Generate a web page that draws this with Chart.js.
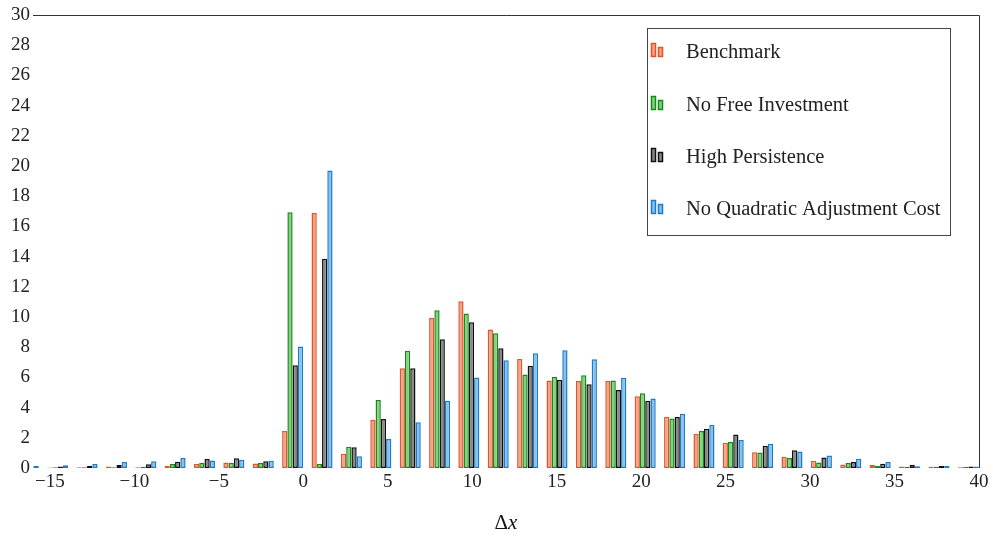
<!DOCTYPE html>
<html>
<head>
<meta charset="utf-8">
<script src="https://cdn.jsdelivr.net/npm/chart.js@4.4.1/dist/chart.umd.min.js"></script>
<style>
  html, body { margin: 0; padding: 0; background: #fff; }
  #wrap { width: 993px; height: 538px; position: relative; }
</style>
</head>
<body>
<div id="wrap"><canvas id="histChart"></canvas></div>
<script>
// bin centres (x positions of each bar group)
const binCenters = [-16.28, -14.54, -12.80, -11.06, -9.32, -7.59, -5.85, -4.11, -2.37, -0.63,
  1.11, 2.85, 4.59, 6.33, 8.07, 9.80, 11.54, 13.28, 15.02, 16.76, 18.50, 20.24, 21.98,
  23.72, 25.45, 27.19, 28.93, 30.67, 32.41, 34.15, 35.89, 37.63, 39.37];

const benchmark = [0.05, 0.03, 0.05, 0.1, 0.05, 0.15, 0.27, 0.37, 0.29, 2.45, 16.9, 0.95, 3.18,
  6.6, 9.94, 11.04, 9.18, 7.22, 5.8, 5.76, 5.76, 4.75, 3.4, 2.25, 1.68, 1.04, 0.75, 0.48, 0.24,
  0.2, 0.1, 0.08, 0.05];
const noFreeInvestment = [0.05, 0.05, 0.05, 0.05, 0.08, 0.27, 0.33, 0.35, 0.33, 16.93, 0.27, 1.4,
  4.5, 7.77, 10.45, 10.24, 8.92, 6.2, 6.05, 6.14, 5.8, 4.95, 3.27, 2.45, 1.72, 1.03, 0.66, 0.37,
  0.33, 0.13, 0.08, 0.08, 0.07];
const highPersistence = [0.08, 0.1, 0.15, 0.2, 0.25, 0.42, 0.6, 0.64, 0.44, 6.8, 13.86, 1.37,
  3.24, 6.6, 8.52, 9.65, 7.93, 6.77, 5.85, 5.54, 5.16, 4.46, 3.37, 2.6, 2.22, 1.48, 1.17, 0.7,
  0.4, 0.28, 0.22, 0.13, 0.1];
const noQuadraticCost = [0.15, 0.18, 0.27, 0.4, 0.45, 0.66, 0.5, 0.55, 0.48, 8.05, 19.7, 0.78,
  1.92, 3.03, 4.46, 6.0, 7.13, 7.6, 7.8, 7.2, 5.98, 4.6, 3.6, 2.87, 1.85, 1.6, 1.1, 0.83, 0.62,
  0.4, 0.12, 0.14, 0.1];

const xTicks = [-15, -10, -5, 0, 5, 10, 15, 20, 25, 30, 35, 40];
const yTicks = [0, 2, 4, 6, 8, 10, 12, 14, 16, 18, 20, 22, 24, 26, 28, 30];

const serif = '"Liberation Serif", "DejaVu Serif", serif';

function toPoints(values) {
  return binCenters.map((x, i) => ({ x: x, y: values[i] }));
}

// top + right frame, x label and the legend box
const decorPlugin = {
  id: 'decor',
  afterDraw(chart) {
    const ctx = chart.ctx;
    const a = chart.chartArea;
    ctx.save();
    ctx.strokeStyle = '#333';
    ctx.lineWidth = 1;
    ctx.beginPath();
    ctx.moveTo(a.left, a.top + 0.5);
    ctx.lineTo(a.right + 0.5, a.top + 0.5);
    ctx.lineTo(a.right + 0.5, a.bottom);
    ctx.stroke();

    // x axis title: upright Delta, italic x
    ctx.fillStyle = '#111';
    ctx.textBaseline = 'middle';
    ctx.font = '21px ' + serif;
    const dW = ctx.measureText('\u0394').width;
    ctx.font = 'italic 21px ' + serif;
    const xW = ctx.measureText('x').width;
    const cx = (a.left + a.right) / 2;
    const tx = cx - (dW + xW) / 2;
    ctx.textAlign = 'left';
    ctx.font = '21px ' + serif;
    ctx.fillText('\u0394', tx, 523);
    ctx.font = 'italic 21px ' + serif;
    ctx.fillText('x', tx + dW, 523);

    // legend
    const box = { x: 647.5, y: 28.5, w: 303, h: 207 };
    ctx.fillStyle = '#fff';
    ctx.fillRect(box.x, box.y, box.w, box.h);
    ctx.strokeStyle = '#444';
    ctx.strokeRect(box.x, box.y, box.w, box.h);
    const rows = [53, 106, 158, 210];
    chart.data.datasets.forEach((ds, i) => {
      const y = rows[i];
      ctx.fillStyle = ds.backgroundColor;
      ctx.strokeStyle = ds.borderColor;
      ctx.lineWidth = 1.5;
      ctx.fillRect(651.5, y - 9.5, 4, 13);
      ctx.strokeRect(651.5, y - 9.5, 4, 13);
      ctx.fillRect(658.5, y - 5.5, 4, 9);
      ctx.strokeRect(658.5, y - 5.5, 4, 9);
      ctx.fillStyle = '#222';
      ctx.font = '20.5px ' + serif;
      ctx.textAlign = 'left';
      ctx.textBaseline = 'middle';
      ctx.fillText(ds.label, 686, y);
    });
    ctx.restore();
  }
};

new Chart(document.getElementById('histChart'), {
  type: 'bar',
  data: {
    datasets: [{
      label: 'Benchmark',
      data: toPoints(benchmark),
      borderColor: '#e0552a',
      backgroundColor: '#f2a384'
    }, {
      label: 'No Free Investment',
      data: toPoints(noFreeInvestment),
      borderColor: '#158a15',
      backgroundColor: '#86cf86'
    }, {
      label: 'High Persistence',
      data: toPoints(highPersistence),
      borderColor: '#111111',
      backgroundColor: '#888888'
    }, {
      label: 'No Quadratic Adjustment Cost',
      data: toPoints(noQuadraticCost),
      borderColor: '#1a7bcb',
      backgroundColor: '#88c2ec'
    }]
  },
  options: {
    responsive: true,
    maintainAspectRatio: false,
    animation: false,
    categoryPercentage: 0.72,
    barPercentage: 1.0,
    elements: {
      bar: { borderWidth: 1.5, borderSkipped: false }
    },
    layout: { padding: { top: 15, right: 14, left: 0, bottom: 0 } },
    plugins: {
      legend: { display: false },
      tooltip: { enabled: false }
    },
    scales: {
      x: {
        type: 'linear',
        min: -16,
        max: 40,
        offset: false,
        grid: { display: false, drawTicks: false },
        border: { display: false },
        afterBuildTicks: (scale) => { scale.ticks = xTicks.map(v => ({ value: v })); },
        afterFit: (scale) => { scale.height = 70; },
        ticks: {
          padding: 3,
          maxRotation: 0,
          autoSkip: false,
          color: '#222',
          font: { family: serif, size: 19 },
          callback: (v) => v < 0 ? '\u2212' + Math.abs(v) : String(v)
        }
      },
      y: {
        min: 0,
        max: 30,
        grid: { display: false, drawTicks: false },
        border: { display: false },
        afterBuildTicks: (scale) => { scale.ticks = yTicks.map(v => ({ value: v })); },
        afterFit: (scale) => { scale.width = 33; },
        ticks: {
          padding: 3,
          autoSkip: false,
          color: '#222',
          font: { family: serif, size: 19 }
        }
      }
    }
  },
  plugins: [decorPlugin]
});
</script>
</body>
</html>
